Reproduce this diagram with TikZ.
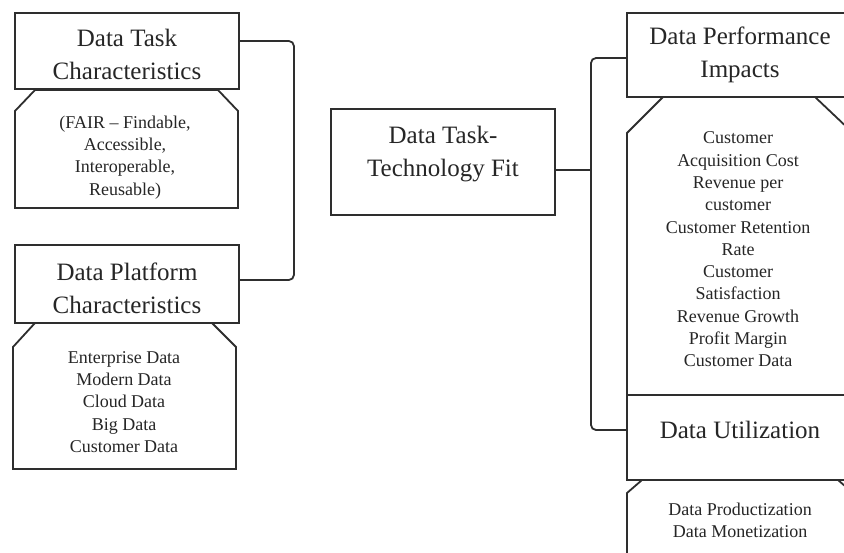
\documentclass[tikz,border=0pt]{standalone}
\usepackage{fontspec}
\setmainfont{Liberation Serif}
\definecolor{lc}{HTML}{2E2E2E}
\definecolor{tc}{HTML}{262626}
\begin{document}
\begin{tikzpicture}[x=1pt,y=-1pt,
  line/.style={draw=lc,line width=1.8pt},
  hbox/.style={line,rectangle,inner sep=0pt,fill=white},
  body/.style={line,fill=white,line join=miter},
  htext/.style={text=tc,align=center,inner sep=0pt,font=\fontsize{25}{33}\selectfont},
  btext/.style={text=tc,align=center,inner sep=0pt,font=\fontsize{18}{22.3}\selectfont},
  conn/.style={line,rounded corners=5pt}]
\useasboundingbox (0,0) rectangle (844,552);
\clip (0,0) rectangle (844,552);
\fill[white] (0,0) rectangle (844,552);

% bodies
\draw[body] (35,90) -- (218,90) -- (238,111) -- (238,208) -- (15,208) -- (15,111) -- cycle;
\draw[body] (35,323) -- (212,323) -- (236,347) -- (236,469) -- (13,469) -- (13,347) -- cycle;
\draw[body] (663,97) -- (815,97) -- (853,133) -- (853,395) -- (627,395) -- (627,133) -- cycle;
\draw[body] (642,480) -- (838,480) -- (853,493) -- (853,600) -- (627,600) -- (627,493) -- cycle;

% header boxes
\node[hbox,minimum width=224pt,minimum height=76pt] (dtc) at (127,51) {};
\node[hbox,minimum width=224pt,minimum height=78pt] (dpc) at (127,284) {};
\node[hbox,minimum width=224pt,minimum height=106pt] (fit) at (443,162) {};
\node[hbox,minimum width=226pt,minimum height=84pt] (dpi) at (740,55) {};
\node[hbox,minimum width=226pt,minimum height=85pt] (du) at (740,437.5) {};

% texts
\node[htext] (dtcT) at (127,54.5) {Data Task\\Characteristics};
\node[btext] (fairT) at (125,157.5) {(FAIR -- Findable,\\Accessible,\\Interoperable,\\Reusable)};
\node[htext] (dpcT) at (127,288) {Data Platform\\Characteristics};
\node[btext] (dpcB) at (124,402) {Enterprise Data\\Modern Data\\Cloud Data\\Big Data\\Customer Data};
\node[htext] (fitT) at (443,154) {Data Task-\\Technology Fit};
\node[htext] (dpiT) at (740,55) {Data Performance\\Impacts};
\node[btext] (dpiB) at (738,249.5) {Customer\\Acquisition Cost\\Revenue per\\customer\\Customer Retention\\Rate\\Customer\\Satisfaction\\Revenue Growth\\Profit Margin\\Customer Data};
\node[htext] (duT) at (740,430) {Data Utilization};
\node[btext] (duB) at (740,520) {Data Productization\\Data Monetization};

% connectors
\draw[conn] ([yshift=10pt]dtc.east) -- ++(54,0) |- ([yshift=4pt]dpc.east);
\coordinate (jn) at (591,170);
\draw[line] ([yshift=-8pt]fit.east) -- (jn);
\draw[conn] ([yshift=-3pt]dpi.west) -| (jn) |- ([yshift=7.5pt]du.west);
\end{tikzpicture}
\end{document}
